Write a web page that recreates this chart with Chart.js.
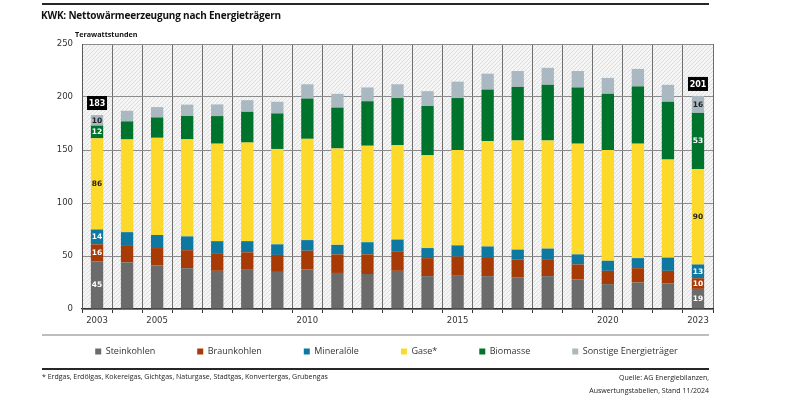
<!DOCTYPE html>
<html>
<head>
<meta charset="utf-8">
<script src="https://cdn.jsdelivr.net/npm/chart.js@4/dist/chart.umd.min.js"></script>
<style>
  body { margin: 0; background: #fff; }
  #wrap { position: relative; width: 800px; height: 400px; overflow: hidden; font-family: "Open Sans", sans-serif; }
  #chart { position: absolute; left: 0; top: 0; }
  .rule { position: absolute; left: 42px; width: 667px; }
  .txt { position: absolute; white-space: nowrap; color: #222; }
</style>
</head>
<body>
<div id="wrap">
  <canvas id="chart" width="800" height="400"></canvas>
  <div class="rule" style="top:3px;height:2px;background:#262626"></div>
  <div class="txt" style="left:41px;top:8px;font-size:10px;font-weight:bold;letter-spacing:-0.2px;color:#111">KWK: Nettowärmeerzeugung nach Energieträgern</div>
  <div class="txt" style="left:75px;top:29px;font-size:7.2px;font-weight:bold;color:#111">Terawattstunden</div>
  <div class="rule" style="top:334px;height:2px;background:#bdbdbd"></div>
  <div class="rule" style="top:368px;height:2px;background:#262626"></div>
  <div class="txt" style="left:42px;top:372px;font-size:7px">* Erdgas, Erdölgas, Kokereigas, Gichtgas, Naturgase, Stadtgas, Konvertergas, Grubengas</div>
  <div class="txt" style="right:91px;top:371px;font-size:7px;text-align:right;line-height:13px">Quelle: AG Energiebilanzen,<br>Auswertungstabellen, Stand 11/2024</div>
</div>
<script>
// Jahre und Werte (TWh)
var years = [2003, 2004, 2005, 2006, 2007, 2008, 2009, 2010, 2011, 2012, 2013,
             2014, 2015, 2016, 2017, 2018, 2019, 2020, 2021, 2022, 2023];
var steinkohlen = [45, 44, 41, 38.5, 36, 37, 35, 37.5, 34, 33, 36, 31, 32, 31, 30, 31, 28, 23.5, 25, 24, 19];
var braunkohlen = [16, 15.5, 16.5, 17, 16, 16.5, 16, 17.5, 17.5, 18.5, 18.5, 17, 17.5, 18, 16.5, 16, 14, 12.5, 13.5, 12, 10];
var mineraloele = [14, 13, 12.3, 13, 12, 10.5, 10, 10, 9, 11.5, 11, 9.5, 10.5, 10, 9.5, 10, 9.5, 9.5, 9.5, 12.5, 13];
var gase = [86, 87.5, 91.7, 91.6, 92, 93, 90, 95.5, 91, 91, 89, 87.5, 90, 99.5, 103, 102, 104.5, 104.5, 108, 92.5, 90];
var biomasse = [12, 17, 19.2, 22, 26, 29, 33.5, 38, 38.5, 42, 44.5, 46.5, 49, 48.5, 50.5, 52.5, 53, 53, 54, 54.5, 53];
var sonstige = [10, 10, 9.8, 10.7, 11, 11, 11, 13.5, 13, 13, 13, 14, 15.5, 15, 15, 16, 15.5, 15, 16.5, 16, 16];
var shownYears = [2003, 2005, 2010, 2015, 2020, 2023]; // beschriftete Jahre
var labelledYears = [2003, 2023]; // Jahre mit Zahlenwerten
var yTicks = [0, 50, 100, 150, 200, 250];

function makeSet(label, data, color, textColor) {
  return {
    label: label,
    data: data,
    backgroundColor: color,
    borderWidth: 0,
    labelColor: textColor,
    barPercentage: 0.41,
    categoryPercentage: 1
  };
}

// schraffierter Hintergrund der Zeichenfläche
var hatch = {
  id: 'hatch',
  beforeDraw: function (chart) {
    var a = chart.chartArea, ctx = chart.ctx;
    var p = document.createElement('canvas');
    p.width = 4; p.height = 4;
    var pc = p.getContext('2d');
    pc.fillStyle = '#f5f5f5';
    pc.fillRect(0, 0, 4, 4);
    pc.strokeStyle = '#dedede';
    pc.lineWidth = 1;
    pc.beginPath();
    pc.moveTo(0, 4); pc.lineTo(4, 0);
    pc.stroke();
    ctx.save();
    ctx.fillStyle = ctx.createPattern(p, 'repeat');
    ctx.fillRect(a.left, a.top, a.right - a.left, a.bottom - a.top);
    ctx.restore();
  }
};

// Werte in den Balken + Summenkästchen
var valueLabels = {
  id: 'valueLabels',
  afterDatasetsDraw: function (chart) {
    var ctx = chart.ctx;
    ctx.save();
    ctx.textAlign = 'center';
    ctx.textBaseline = 'middle';
    labelledYears.forEach(function (yr) {
      var idx = years.indexOf(yr);
      var total = 0, topY = null, x = null;
      chart.data.datasets.forEach(function (ds, i) {
        var bar = chart.getDatasetMeta(i).data[idx];
        var v = ds.data[idx];
        total += v;
        x = bar.x;
        topY = bar.y;
        ctx.font = 'bold 7.5px "DejaVu Sans"';
        ctx.fillStyle = ds.labelColor;
        ctx.fillText(Math.round(v), bar.x, (bar.y + bar.base) / 2 + 0.5);
      });
      var cy = topY - 12;
      ctx.fillStyle = '#000';
      ctx.fillRect(x - 10, cy - 7, 20, 14);
      ctx.fillStyle = '#fff';
      ctx.font = 'bold 8px "DejaVu Sans"';
      ctx.fillText(Math.round(total), x, cy + 0.5);
    });
    ctx.restore();
  }
};

var gap = '\u2003\u2003\u2003   ';
var tail = '\u2003\u2003    ';

new Chart(document.getElementById('chart'), {
  type: 'bar',
  data: {
    labels: years,
    datasets: [
      makeSet('Steinkohlen', steinkohlen, '#6b6b6b', '#ffffff'),
      makeSet('Braunkohlen', braunkohlen, '#a83a06', '#ffffff'),
      makeSet('Mineralöle', mineraloele, '#0f78a1', '#ffffff'),
      makeSet('Gase*', gase, '#fdd92c', '#222222'),
      makeSet('Biomasse', biomasse, '#00732c', '#ffffff'),
      makeSet('Sonstige Energieträger', sonstige, '#a9b8c1', '#222222')
    ]
  },
  options: {
    responsive: false,
    animation: false,
    layout: { padding: { left: 40, right: 87, top: 44, bottom: 34 } },
    scales: {
      x: {
        stacked: true,
        afterFit: function (s) { s.height = 30; },
        grid: { color: '#6e6e6e', lineWidth: 1, tickLength: 4, tickColor: '#333' },
        border: { color: '#333', width: 1.2 },
        ticks: {
          autoSkip: false,
          maxRotation: 0,
          padding: 3,
          color: '#333',
          font: { family: 'DejaVu Sans', size: 8.5 },
          callback: function (val, i) {
            return shownYears.indexOf(years[i]) >= 0 ? String(years[i]) : '';
          }
        }
      },
      y: {
        stacked: true,
        min: 0,
        max: 250,
        afterFit: function (s) { s.width = 42; },
        afterBuildTicks: function (s) { s.ticks = yTicks.map(function (v) { return { value: v }; }); },
        grid: { color: '#8c8c8c', lineWidth: 1, drawTicks: false },
        border: { color: '#555', width: 1 },
        ticks: {
          padding: 9,
          color: '#333',
          font: { family: 'DejaVu Sans', size: 8.5 }
        }
      }
    },
    plugins: {
      tooltip: { enabled: false },
      legend: {
        position: 'bottom',
        align: 'end',
        labels: {
          boxWidth: 6,
          boxHeight: 6,
          padding: 8,
          color: '#333',
          font: { family: 'Open Sans', size: 9 },
          generateLabels: function (chart) {
            var items = Chart.defaults.plugins.legend.labels.generateLabels(chart);
            items.forEach(function (it, i) {
              it.lineWidth = 0;
              it.text = it.text + (i < items.length - 1 ? gap : tail);
            });
            return items;
          }
        }
      }
    }
  },
  plugins: [hatch, valueLabels]
});
</script>
</body>
</html>
